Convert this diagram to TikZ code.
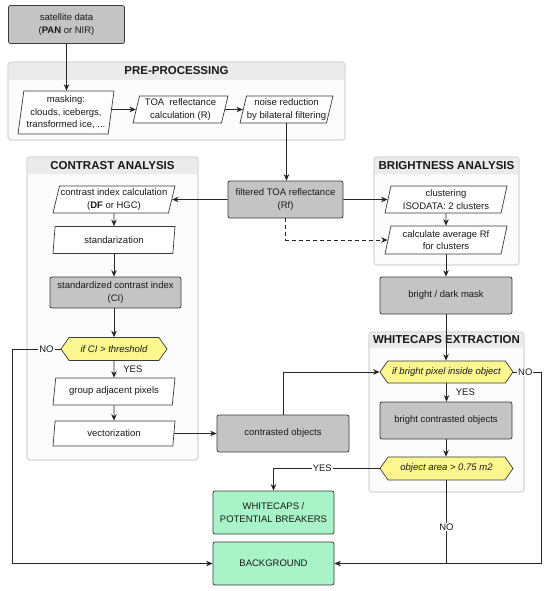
\documentclass[tikz,border=0pt]{standalone}
\usepackage{fontspec}
\setmainfont{Liberation Sans}
\usetikzlibrary{arrows.meta,shapes.geometric,shapes.symbols}
\definecolor{boxgray}{HTML}{C4C4C4}
\definecolor{boxline}{HTML}{3A3A3A}
\definecolor{hexyel}{HTML}{FCF68E}
\definecolor{grn}{HTML}{A8F3C8}
\definecolor{grpline}{HTML}{D2D2D2}
\definecolor{grpfill}{HTML}{FCFCFC}
\definecolor{hdrfill}{HTML}{EBEBEB}
\tikzset{
  base/.style={font=\fontsize{9.5}{12.5}\selectfont, align=center, inner sep=1pt, text=black!90},
  graybox/.style={base, draw=boxline, fill=boxgray, rounded corners=2pt, line width=0.75pt},
  greenbox/.style={base, draw=boxline, fill=grn, rounded corners=2pt, line width=0.75pt},
  para/.style={base, draw=boxline, fill=white, trapezium, trapezium stretches body,
     trapezium left angle=73, trapezium right angle=107, line width=0.7pt, inner sep=0pt},
  hexa/.style={base, draw=boxline, fill=hexyel, signal, signal to=west and east,
     signal pointer angle=110, line width=0.7pt, inner sep=0pt, font=\fontsize{9.5}{12}\selectfont\itshape},
  grp/.style={draw=grpline, fill=grpfill, rounded corners=3pt, line width=0.7pt},
  hdr/.style={fill=hdrfill},
  hdrtxt/.style={font=\fontsize{11.5}{13}\selectfont\bfseries, inner sep=0pt, text=black!90},
  arr/.style={-{Stealth[length=6.5pt,width=5.5pt]}, line width=0.75pt, draw=black!85},
  ln/.style={line width=0.75pt, draw=black!85},
  lab/.style={base, fill=white, inner sep=1pt},
}
\begin{document}
\begin{tikzpicture}[x=1pt,y=-1pt]
\useasboundingbox (0,0) rectangle (550,591);
% groups
\draw[grp] (8,62) rectangle (345,140);
\fill[hdr] (8.5,80) [rounded corners=3pt] -- (8.5,62.5) -- (344.5,62.5) [sharp corners] -- (344.5,80) -- cycle;
\draw[grp,fill=none] (8,62) rectangle (345,140);
\node[hdrtxt] (tpre) at (176.5,71) {PRE-PROCESSING};

\draw[grp] (27,157) rectangle (198,460);
\fill[hdr] (27.5,174) [rounded corners=3pt] -- (27.5,157.5) -- (197.5,157.5) [sharp corners] -- (197.5,174) -- cycle;
\draw[grp,fill=none] (27,157) rectangle (198,460);
\node[hdrtxt] (tcon) at (112.5,165.5) {CONTRAST ANALYSIS};

\draw[grp] (374,157) rectangle (519,265);
\fill[hdr] (374.5,174) [rounded corners=3pt] -- (374.5,157.5) -- (518.5,157.5) [sharp corners] -- (518.5,174) -- cycle;
\draw[grp,fill=none] (374,157) rectangle (519,265);
\node[hdrtxt] (tbri) at (446.5,165.5) {BRIGHTNESS ANALYSIS};

\draw[grp] (369,332) rectangle (524,492);
\fill[hdr] (369.5,348) [rounded corners=3pt] -- (369.5,332.5) -- (523.5,332.5) [sharp corners] -- (523.5,348) -- cycle;
\draw[grp,fill=none] (369,332) rectangle (524,492);
\node[hdrtxt] (twhi) at (446.5,340) {WHITECAPS EXTRACTION};

% nodes
\node[graybox, minimum width=116pt, minimum height=38pt] (sat) at (66.5,24.5) {satellite data\\(\textbf{PAN} or NIR)};
\node[para, trapezium left angle=80, trapezium right angle=100, minimum width=96pt, minimum height=43pt] (mask) at (66,112.5) {masking:\\clouds, icebergs,\\transformed ice, ...};
\node[para, minimum width=95pt, minimum height=27pt] (toa) at (180.5,109.5) {TOA\ \ reflectance\\calculation (R)};
\node[para, minimum width=93pt, minimum height=27pt] (noise) at (286.5,109.5) {noise reduction\\by bilateral filtering};
\node[graybox, minimum width=115pt, minimum height=37pt] (filt) at (285.5,199.5) {filtered TOA reflectance\\(Rf)};

\node[para, minimum width=122pt, minimum height=27pt] (ci) at (114,199.5) {contrast index calculation\\(\textbf{DF} or HGC)};
\node[para, minimum width=122pt, minimum height=27pt] (std) at (114,240) {standarization};
\node[graybox, minimum width=131pt, minimum height=31pt] (sci) at (115.5,292.5) {standardized contrast index\\(CI)};
\node[hexa, minimum width=106pt, minimum height=23pt] (thr) at (114,349) {if CI > threshold};
\node[para, minimum width=122pt, minimum height=27pt] (grpx) at (114,391.5) {group adjacent pixels};
\node[para, minimum width=122pt, minimum height=25pt] (vec) at (114,433.5) {vectorization};
\node[graybox, minimum width=132pt, minimum height=37pt] (cobj) at (283,433.5) {contrasted objects};

\node[para, minimum width=122pt, minimum height=27pt] (clus) at (446,199.5) {clustering\\ISODATA: 2 clusters};
\node[para, minimum width=122pt, minimum height=28pt] (avg) at (446,240) {calculate average Rf\\for clusters};
\node[graybox, minimum width=132pt, minimum height=37pt] (bdm) at (446,295.5) {bright / dark mask};

\node[hexa, minimum width=133pt, minimum height=22pt] (bpix) at (446.5,372) {if bright pixel inside object};
\node[graybox, minimum width=132pt, minimum height=37pt] (bco) at (446,420.5) {bright contrasted objects};
\node[hexa, minimum width=133pt, minimum height=23pt] (area) at (446.5,468.5) {object area > 0.75 m2};

\node[greenbox, minimum width=121pt, minimum height=43pt] (wc) at (273.5,512.5) {WHITECAPS /\\POTENTIAL BREAKERS};
\node[greenbox, minimum width=121pt, minimum height=43pt] (bg) at (273.5,563.5) {BACKGROUND};

\coordinate (lcorner) at (12,349);
\coordinate (rcorner) at (541,372);

% connectors
\draw[arr] (sat.south) -- (sat.south |- mask.north);
\draw[arr] (toa.west -| mask.east) -- (toa.west);
\draw[arr] (toa.east) -- (noise.west);
\draw[arr] (noise.south) -- (noise.south |- filt.north);
\draw[arr] (filt.west) -- (ci.east);
\draw[arr] (filt.east) -- (clus.west);
\draw[arr, dashed, dash pattern=on 4pt off 3pt] (filt.south) |- (avg.west);
\draw[arr] (clus.south) -- (avg.north);
\draw[arr] (avg.south) -- (avg.south |- bdm.north);
\draw[arr] (bdm.south) -- (bdm.south |- bpix.north);
\draw[arr] (ci.south) -- (std.north);
\draw[arr] (std.south) -- (std.south |- sci.north);
\draw[arr] (sci.south -| thr.north) -- (thr.north);
\draw[arr] (thr.south) -- node[base, right, xshift=8pt]{YES} (grpx.north);
\draw[arr] (grpx.south) -- (vec.north);
\draw[arr] (vec.east) -- (vec.east -| cobj.west);
\draw[arr] (cobj.north) |- (bpix.west);
\draw[arr] (bpix.south) -- node[base, right, xshift=8pt]{YES} (bpix.south |- bco.north);
\draw[arr] (bco.south) -- (bco.south |- area.north);
\draw[arr] (area.west) -| node[lab, pos=0.27]{YES} (wc.north);
\draw[ln] (area.south) -- node[lab, pos=0.56]{NO} (area.south |- bg.east);
\draw[arr] (bpix.east) -- node[lab, pos=0.43]{NO} (rcorner) |- (bg.east);
\draw[arr] (thr.west) -- node[lab, pos=0.29]{NO} (lcorner) |- (bg.west);
\end{tikzpicture}
\end{document}
